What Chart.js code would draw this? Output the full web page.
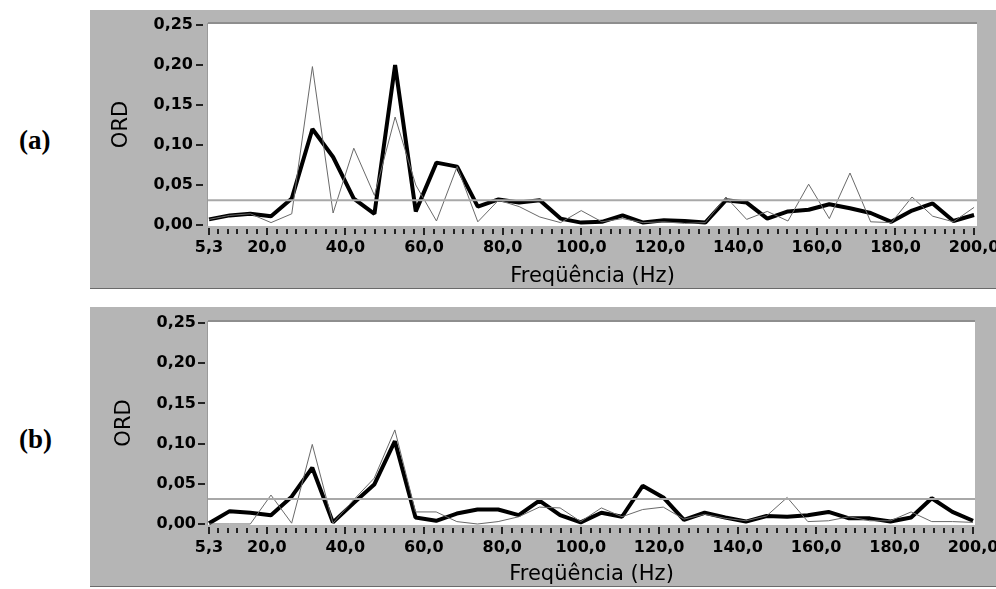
<!DOCTYPE html>
<html><head><meta charset="utf-8">
<script src="https://cdn.jsdelivr.net/npm/chart.js@4.4.1/dist/chart.umd.min.js"></script>
<style>
html,body{margin:0;padding:0;background:#fff;width:996px;height:589px;overflow:hidden;position:relative}
canvas{position:absolute;left:90px;background:#b5b5b5}
.lbl{position:absolute;left:19px;font-family:"Liberation Serif",serif;font-weight:bold;font-size:27px;line-height:27px;color:#000}
</style></head><body>
<canvas id="ca" width="906" height="279" style="top:10px"></canvas>
<canvas id="cb" width="906" height="280" style="top:307px"></canvas>
<div class="lbl" style="top:127px">(a)</div>
<div class="lbl" style="top:426px">(b)</div>
<script>
// Frequencies (Hz)
const freq = [5.26, 10.53, 15.79, 21.05, 26.32, 31.58, 36.84, 42.11, 47.37, 52.63,
  57.89, 63.16, 68.42, 73.68, 78.95, 84.21, 89.47, 94.74, 100.00, 105.26,
  110.53, 115.79, 121.05, 126.32, 131.58, 136.84, 142.11, 147.37, 152.63, 157.89,
  163.16, 168.42, 173.68, 178.95, 184.21, 189.47, 194.74, 200.00];

// Panel (a)
const thinA = [0.007, 0.012, 0.014, 0.003, 0.014, 0.198, 0.015, 0.096, 0.037, 0.135,
  0.050, 0.005, 0.073, 0.004, 0.031, 0.023, 0.010, 0.003, 0.018, 0.004,
  0.008, 0.003, 0.004, 0.002, 0.003, 0.035, 0.007, 0.017, 0.005, 0.051,
  0.008, 0.065, 0.004, 0.003, 0.035, 0.011, 0.004, 0.022];
const thickA = [0.007, 0.012, 0.014, 0.011, 0.033, 0.120, 0.085, 0.033, 0.014, 0.200,
  0.017, 0.078, 0.073, 0.023, 0.032, 0.028, 0.031, 0.008, 0.003, 0.004,
  0.012, 0.003, 0.006, 0.005, 0.003, 0.031, 0.028, 0.008, 0.017, 0.019,
  0.026, 0.021, 0.015, 0.004, 0.018, 0.027, 0.005, 0.0125];

// Panel (b)
const thinB = [0.000, 0.000, 0.000, 0.036, 0.001, 0.099, 0.001, 0.030, 0.057, 0.117,
  0.015, 0.015, 0.003, 0.000, 0.003, 0.009, 0.021, 0.020, 0.003, 0.020,
  0.009, 0.018, 0.021, 0.006, 0.012, 0.007, 0.004, 0.010, 0.033, 0.003,
  0.004, 0.009, 0.004, 0.004, 0.015, 0.003, 0.003, 0.002];
const thickB = [0.001, 0.016, 0.014, 0.011, 0.034, 0.070, 0.002, 0.026, 0.049, 0.103,
  0.008, 0.004, 0.013, 0.018, 0.018, 0.011, 0.029, 0.011, 0.002, 0.014,
  0.009, 0.0475, 0.033, 0.005, 0.014, 0.008, 0.003, 0.010, 0.009, 0.011,
  0.015, 0.007, 0.007, 0.003, 0.008, 0.032, 0.015, 0.004];

// Critical value line
const threshold = 0.031;

// Tick values
const xTickValues = [5.26, 20, 40, 60, 80, 100, 120, 140, 160, 180, 200];
const xMinorTicks = [7.5, 10, 12.5, 15, 17.5, 22.5, 25, 27.5, 30, 32.5, 35, 37.5,
  42.5, 45, 47.5, 50, 52.5, 55, 57.5, 62.5, 65, 67.5, 70, 72.5, 75, 77.5,
  82.5, 85, 87.5, 90, 92.5, 95, 97.5, 102.5, 105, 107.5, 110, 112.5, 115, 117.5,
  122.5, 125, 127.5, 130, 132.5, 135, 137.5, 142.5, 145, 147.5, 150, 152.5, 155, 157.5,
  162.5, 165, 167.5, 170, 172.5, 175, 177.5, 182.5, 185, 187.5, 190, 192.5, 195, 197.5];
const yTickValues = [0, 0.05, 0.10, 0.15, 0.20, 0.25];

const fmt = (v, d) => v.toFixed(d).replace('.', ',');

function makeChart(id, thin, thick, c) {
  const xMin = 5.0;
  const frame = {
    id: 'frame',
    beforeDraw(chart) {
      const {ctx, chartArea: a} = chart;
      ctx.save();
      ctx.fillStyle = '#ffffff';
      ctx.fillRect(a.left, a.top, a.right - a.left, a.bottom - a.top);
      ctx.fillStyle = '#8e8e8e';
      ctx.fillRect(a.left, a.top - 1, a.right - a.left, 2);
      ctx.fillStyle = '#9a9a9a';
      ctx.fillRect(a.left - 1, a.top, 1, a.bottom - a.top);
      ctx.fillStyle = '#6a6a6a';
      ctx.fillRect(0, chart.height - 1, chart.width, 1);
      ctx.restore();
    },
    afterDraw(chart) {
      const {ctx, chartArea: a} = chart;
      const xs = chart.scales.x, ys = chart.scales.y;
      ctx.save();
      ctx.fillStyle = '#222';
      yTickValues.forEach(v => {
        const y = Math.round(ys.getPixelForValue(v));
        ctx.fillRect(a.left - c.dashFrom, y - 1, c.dashFrom - c.dashTo, 2);
      });
      xTickValues.forEach(v => {
        const x = Math.round(xs.getPixelForValue(v));
        ctx.fillRect(x - 1, a.bottom + 2, 2, 7);
      });
      xMinorTicks.forEach(v => {
        const x = Math.round(xs.getPixelForValue(v));
        ctx.fillRect(x - 1, a.bottom + 3, 2, 5);
      });
      ctx.restore();
    }
  };
  return new Chart(document.getElementById(id), {
    type: 'line',
    data: {
      datasets: [
        {data: [{x: xMin, y: threshold}, {x: c.xMax, y: threshold}], borderColor: '#a8a8a8', borderWidth: 2, pointRadius: 0},
        {data: freq.map((f, i) => ({x: f, y: thin[i]})), borderColor: '#6a6a6a', borderWidth: 1, pointRadius: 0},
        {data: freq.map((f, i) => ({x: f, y: thick[i]})), borderColor: '#000000', borderWidth: 4, pointRadius: 0, borderJoinStyle: 'bevel'}
      ]
    },
    options: {
      responsive: false, animation: false, devicePixelRatio: 1,
      layout: {padding: {left: 0, right: c.padRight, top: c.padTop, bottom: 0}},
      plugins: {legend: {display: false}, tooltip: {enabled: false}},
      scales: {
        x: {
          type: 'linear', min: xMin, max: c.xMax,
          grid: {display: false, drawTicks: false}, border: {display: false},
          afterBuildTicks: s => { s.ticks = xTickValues.map(v => ({value: v})); },
          afterFit: s => { s.height = c.xAxisH; s.paddingLeft = 0; s.paddingRight = 0; },
          ticks: {autoSkip: false, maxRotation: 0, padding: c.xTickPad, color: '#000',
            font: {family: 'DejaVu Sans', weight: 'bold', size: 16}, callback: v => fmt(v, 1)},
          title: {display: true, text: 'Freqüência (Hz)', color: '#000',
            font: {family: 'DejaVu Sans', size: 21}, padding: {top: 0, bottom: c.xTitlePad}}
        },
        y: {
          min: -0.00125, max: 0.2525,
          grid: {display: false, drawTicks: false}, border: {display: false},
          afterBuildTicks: s => { s.ticks = yTickValues.map(v => ({value: v})); },
          afterFit: s => { s.width = 118; s.paddingTop = 0; s.paddingBottom = 0; },
          ticks: {autoSkip: false, padding: c.yTickPad, color: '#000',
            font: {family: 'DejaVu Sans', weight: 'bold', size: 16}, callback: v => fmt(v, 2)},
          title: {display: true, text: 'ORD', color: '#000',
            font: {family: 'DejaVu Sans', size: 21}, padding: {top: c.yTitlePad, bottom: 0}}
        }
      }
    },
    plugins: [frame]
  });
}

makeChart('ca', thinA, thickA, {xMax: 200.75, padRight: 19, padTop: 13, xAxisH: 63, xTickPad: 12, xTitlePad: 0, yTickPad: 15, yTitlePad: 19, dashFrom: 12, dashTo: 5});
makeChart('cb', thinB, thickB, {xMax: 200.5, padRight: 21, padTop: 14, xAxisH: 62, xTickPad: 13, xTitlePad: 0, yTickPad: 12, yTitlePad: 22, dashFrom: 10, dashTo: 3});
</script>
</body></html>
